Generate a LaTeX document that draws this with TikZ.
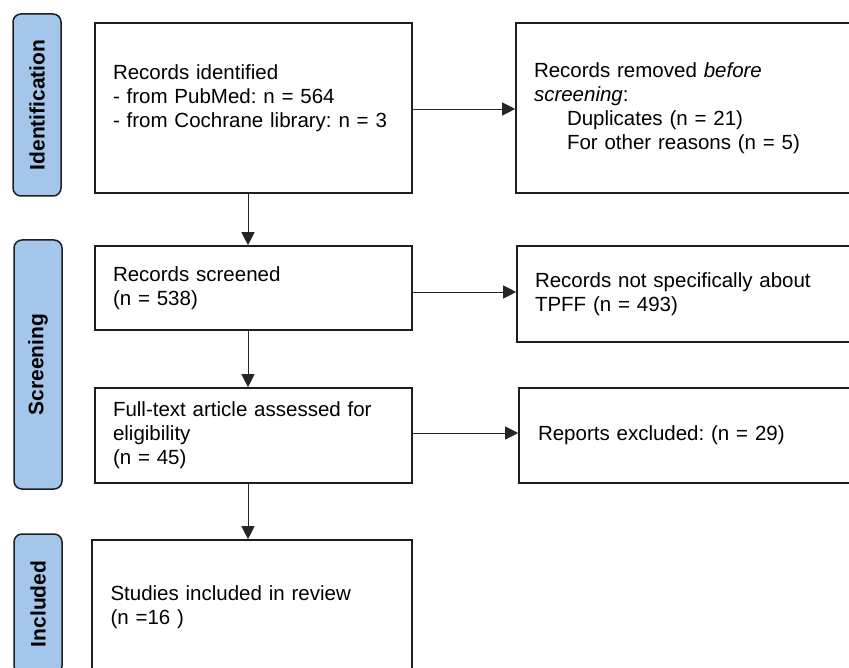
\documentclass[tikz,border=0pt]{standalone}
\usepackage{fontspec}
\setmainfont{Liberation Sans}
\usetikzlibrary{arrows.meta}
\definecolor{sidefill}{RGB}{164,198,234}
\definecolor{edge}{RGB}{30,30,30}
\frenchspacing
\begin{document}
\begin{tikzpicture}[x=1pt,y=-1pt,
  every node/.style={font=\fontsize{20.5}{24}\selectfont},
  flowbox/.style={draw=edge,line width=1.6pt,rectangle,inner xsep=18pt,inner ysep=0pt,align=left},
  sidebox/.style={draw=edge,fill=sidefill,line width=1.5pt,rounded corners=8pt,minimum width=48pt,inner sep=0pt},
  sidelabel/.style={rotate=90,font=\fontsize{21}{24}\selectfont\bfseries},
  arr/.style={line width=0.9pt,draw=black!85,-{Triangle[length=13pt,width=13pt]}}]
\useasboundingbox (0,0) rectangle (849,668);
\clip (0,0) rectangle (849,668);
\fill[white] (0,0) rectangle (849,668);

% phase side bars
\node[sidebox,minimum height=182pt] (sid) at (37,105) {};
\node[sidelabel] at (sid.center) {Identification};
\node[sidebox,minimum height=249pt] (sscr) at (38,364.5) {};
\node[sidelabel] at (sscr.center) {Screening};
\node[sidebox,minimum height=140pt] (sinc) at (38,604) {};
\node[sidelabel] at (sinc.center) {Included};

% left column
\node[flowbox,minimum width=317pt,minimum height=170pt,text width=281pt] (A) at (253.5,108)
  {Records identified\\- from PubMed: n = 564\\- from Cochrane library: n = 3\\\mbox{}};
\node[flowbox,minimum width=317pt,minimum height=84pt,text width=281pt] (C) at (253.5,288)
  {Records screened\\(n = 538)};
\node[flowbox,minimum width=317pt,minimum height=95pt,text width=281pt] (E) at (253.5,435.5)
  {Full-text article assessed for\\eligibility\\(n = 45)};
\node[flowbox,minimum width=320pt,minimum height=134pt,text width=283pt] (G) at (252,607)
  {Studies included in review\\(n =16 )};

% right column
\node[flowbox,minimum width=354pt,minimum height=170pt,text width=318pt] (B) at (693,108)
  {Records removed \textit{before}\\\textit{screening}:\\\hspace*{33pt}Duplicates (n = 21)\\\hspace*{33pt}For other reasons (n = 5)};
\node[flowbox,minimum width=353pt,minimum height=96pt,text width=317pt] (D) at (693.5,294)
  {Records not specifically about\\TPFF (n = 493)};
\node[flowbox,minimum width=351pt,minimum height=95pt,text width=313pt,inner xsep=19pt] (F) at (694.5,435.5)
  {Reports excluded: (n = 29)};

% connector guides
\coordinate (vx) at (248,0);
\coordinate (h1) at (0,109);
\coordinate (h2) at (0,292);
\coordinate (h3) at (0,433);

\draw[arr] (A.south -| vx) -- (C.north -| vx);
\draw[arr] (C.south -| vx) -- (E.north -| vx);
\draw[arr] (E.south -| vx) -- (G.north -| vx);
\draw[arr] (A.east |- h1) -- (B.west |- h1);
\draw[arr] (C.east |- h2) -- (D.west |- h2);
\draw[arr] (E.east |- h3) -- (F.west |- h3);
\end{tikzpicture}
\end{document}
